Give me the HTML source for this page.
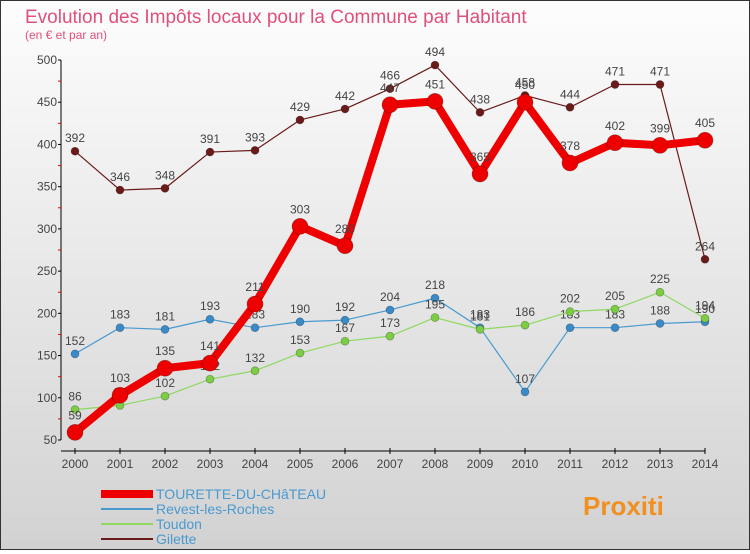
<!DOCTYPE html>
<html><head><meta charset="utf-8"><style>
body{margin:0;width:750px;height:550px;overflow:hidden;font-family:"Liberation Sans",sans-serif}
#wrap{position:relative;width:748px;height:548px;border:1px solid #333;background:linear-gradient(#fdfdfd,#d2d2d2)}
</style></head><body>
<div id="wrap">
<svg id="chart" width="748" height="548"></svg>
</div>
<script>
const years=["2000","2001","2002","2003","2004","2005","2006","2007","2008","2009","2010","2011","2012","2013","2014"];
const tourette=[59,103,135,141,211,303,280,447,451,365,450,378,402,399,405];
const revest=[152,183,181,193,183,190,192,204,218,183,107,183,183,188,190];
const toudon=[86,91,102,122,132,153,167,173,195,181,186,202,205,225,194];
const gilette=[392,346,348,391,393,429,442,466,494,438,458,444,471,471,264];
const yTicks=[50,100,150,200,250,300,350,400,450,500];
const NS="http://www.w3.org/2000/svg";
const svg=document.getElementById('chart');
const X=i=>74+i*45, Y=v=>439-(v-50)*380/450;
function mk(t,a,p){const e=document.createElementNS(NS,t);for(const k in a)e.setAttribute(k,a[k]);(p||svg).appendChild(e);return e;}
let t=mk('text',{x:24,y:22,'font-size':19,fill:'#e0507a'});t.textContent='Evolution des Impôts locaux pour la Commune par Habitant';

t=mk('text',{x:24,y:38,'font-size':12,fill:'#e0507a'});t.textContent='(en € et par an)';

let ax=mk('g',{});
mk('line',{x1:60,y1:Y(500),x2:60,y2:Y(50),stroke:'#000'},ax);
yTicks.forEach(v=>{mk('line',{x1:57,x2:60,y1:Y(v),y2:Y(v),stroke:'#000'},ax);
 if(v<500)mk('line',{x1:57,x2:60,y1:Y(v+25),y2:Y(v+25),stroke:'#e00'},ax);
 const l=mk('text',{x:56,y:Y(v)+4,'text-anchor':'end','font-size':12,fill:'#444'},ax);l.textContent=v;});
let xa=mk('g',{});
mk('line',{x1:60,x2:X(14),y1:450,y2:450,stroke:'#000'},xa);
years.forEach((y,i)=>{mk('line',{x1:X(i),x2:X(i),y1:447,y2:453,stroke:'#000'},xa);
 const l=mk('text',{x:X(i),y:467,'text-anchor':'middle','font-size':12,fill:'#444'},xa);l.textContent=y;});
function series(d,name,col,w,r,mc){
 const g=mk('g',{});
 mk('polyline',{points:d.map((v,i)=>X(i)+','+Y(v)).join(' '),fill:'none',stroke:col,'stroke-width':w,'stroke-linejoin':'round'},g);
 d.forEach((v,i)=>{const c=mk('circle',{cx:X(i),cy:Y(v),r:r,fill:mc||col,stroke:'rgba(0,0,0,0.3)','stroke-width':0.7},g);
  
  const l=mk('text',{x:X(i),y:Y(v)-r-5,'text-anchor':'middle','font-size':12,fill:'#444'},g);l.textContent=v;});
}
series(gilette,'gilette-series','#6b1a1a',1.2,4);
series(revest,'revest-series','#4a9ad0',1.2,4,'#3a8ac8');
series(toudon,'toudon-series','#8ed860',1.2,4,'#7ccc44');
series(tourette,'tourette-series','#ee0000',8,8);
const leg=[['TOURETTE-DU-CHâTEAU','#ee0000',8],['Revest-les-Roches','#4a9ad0',2],['Toudon','#8ed860',2],['Gilette','#6b1a1a',2]];
leg.forEach((e,i)=>{const g=mk('g',{});
 const y=493+i*15;mk('line',{x1:100,x2:152,y1:y,y2:y,stroke:e[1],'stroke-width':e[2]},g);
 const l=mk('text',{x:155,y:y+5,'font-size':14,fill:'#4a9ad0'},g);l.textContent=e[0];});
const lg=mk('text',{x:582,y:514,'font-size':26,'font-weight':'bold',fill:'#f09020'});lg.textContent='Proxiti';

</script>
</body></html>
